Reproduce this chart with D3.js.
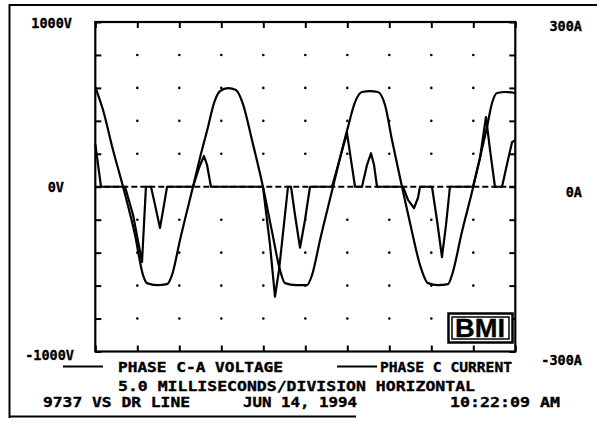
<!DOCTYPE html>
<html><head><meta charset="utf-8">
<script src="https://cdn.jsdelivr.net/npm/d3@7"></script>
<style>
html,body{margin:0;padding:0;background:#fff;}
svg{display:block;}
text{font-family:"DejaVu Sans Mono",monospace;font-weight:bold;fill:#000;stroke:#000;stroke-width:0.35px;}
</style></head>
<body>
<svg id="c" width="597" height="423"></svg>
<script>
// ---- data (time in ms, 5 ms/div, 10 divisions) ----
const timeV = [0,0.92,2.11,3.30,4.73,5.68,6.15,7.34,8.54,9.13,10.08,11.63,12.46,13.42,14.13,14.85,15.80,16.75,17.58,18.65,19.96,21.04,21.99,22.58,23.89,25.20,25.80,26.75,28.30,29.13,30.08,30.92,31.75,32.70,33.65,34.49,35.32,36.51,37.70,38.65,39.61,40.80,41.99,42.46,43.65,44.96,45.79,46.63,47.23,47.82,48.89,50];
const voltage = [605,466,223,0,-293,-536,-585,-597,-591,-536,-324,0,175,363,508,581,599,587,502,284,0,-273,-506,-585,-597,-597,-536,-324,0,175,363,514,575,581,575,496,284,0,-273,-474,-585,-597,-591,-536,-273,-8,175,363,508,569,575,569];
const timeA = [0,0.68,3.54,4.49,5.56,6.03,6.63,7.11,7.70,8.18,8.54,11.63,12.34,12.94,13.30,13.77,19.96,20.80,21.39,21.87,22.94,23.30,23.77,24.37,24.96,25.56,28.18,29.13,29.96,30.44,30.92,31.75,32.35,32.82,33.18,33.54,36.63,37.23,37.94,38.42,38.65,40.08,40.68,41.27,41.75,42.22,44.96,45.79,46.51,46.99,47.58,48.42,49.13,49.61,50];
const current = [78,0,0,-51,-137,0,0,-33,-75,-33,0,0,34,56,40,0,0,-106,-200,-152,0,0,-51,-111,-61,0,0,52,98,49,0,0,40,61,40,0,0,-24,-39,-20,0,0,-61,-128,-70,0,0,52,127,67,0,0,49,81,85];
const voltTicks = [1000,0,-1000];
const voltLabels = ["1000V","0V","-1000V"];
const ampTicks = [300,0,-300];
const ampLabels = ["300A","0A","-300A"];
const legendLabels = ["PHASE C-A VOLTAGE","PHASE C CURRENT"];
const footer = ["5.0 MILLISECONDS/DIVISION HORIZONTAL","9737 VS DR LINE","JUN 14, 1994","10:22:09 AM"];

const svg = d3.select("#c");
const L=95.3,R=515.3,T=22,B=351.5;
const x = d3.scaleLinear().domain([0,50]).range([L,R]);
const yV = d3.scaleLinear().domain([-1000,1000]).range([B,T]);
const yA = d3.scaleLinear().domain([-300,300]).range([B,T]);

// outer border (left, top, bottom)
svg.append("path").attr("d","M9.5,5 H597 M9.5,4 V418 M9,416.5 H356")
  .attr("stroke","#000").attr("stroke-width",2).attr("fill","none");

// grid dots
const g = svg.append("g");
for(let i=1;i<10;i++){for(let j=1;j<10;j++){ if(j===5) continue;
  g.append("circle").attr("cx",x(i*5)).attr("cy",yV(-1000+j*200)).attr("r",1.3).attr("fill","#000");}}
// zero dashed line
g.append("line").attr("x1",L).attr("x2",R).attr("y1",yV(0)).attr("y2",yV(0))
 .attr("stroke","#000").attr("stroke-width",2).attr("stroke-dasharray","6 3");

// axes with inward ticks
const vt = d3.range(-1000,1001,200), ht = d3.range(0,51,5);
const ax = [
  [d3.axisLeft(yV).tickValues(vt).tickSize(-6), L],
  [d3.axisRight(yV).tickValues(vt).tickSize(-6), R]];
ax.forEach(([a,px])=>{const s=svg.append("g").attr("transform",`translate(${px},0)`).call(a.tickFormat(""));
  s.select(".domain").remove(); s.selectAll("line").attr("stroke","#000").attr("stroke-width",2);});
[[d3.axisTop(x).tickValues(ht).tickSize(-6),T],[d3.axisBottom(x).tickValues(ht).tickSize(-6),B]].forEach(([a,py])=>{
  const s=svg.append("g").attr("transform",`translate(0,${py})`).call(a.tickFormat(""));
  s.select(".domain").remove(); s.selectAll("line").attr("stroke","#000").attr("stroke-width",2);});
svg.append("rect").attr("x",L).attr("y",T).attr("width",R-L).attr("height",B-T)
  .attr("fill","none").attr("stroke","#000").attr("stroke-width",2.2);

// traces
const lineV = d3.line().x((d,i)=>x(timeV[i])).y(d=>yV(d)).curve(d3.curveMonotoneX);
const lineA = d3.line().x((d,i)=>x(timeA[i])).y(d=>yA(d));
svg.append("path").datum(voltage).attr("d",lineV).attr("fill","none").attr("stroke","#000").attr("stroke-width",2.2).attr("stroke-linejoin","round");
svg.append("path").datum(current).attr("d",lineA).attr("fill","none").attr("stroke","#000").attr("stroke-width",2.2).attr("stroke-linejoin","round");

// axis labels
const fs = 13.5;
const vOff=[6,5,8.5], aOff=[9,10,13.5], vRight=[72,64,74];
voltTicks.forEach((v,i)=>{svg.append("text").attr("x",vRight[i]).attr("y",yV(v)+vOff[i]).attr("text-anchor","end")
  .attr("font-size",fs).text(voltLabels[i]);});
ampTicks.forEach((v,i)=>{svg.append("text").attr("x",582).attr("y",yA(v)+aOff[i]).attr("text-anchor","end")
  .attr("font-size",fs).text(ampLabels[i]);});

// legend
const lg = [[63,103,118,283],[337,377,380,512]];
legendLabels.forEach((t,i)=>{const [a,b,c,d]=lg[i];
  svg.append("line").attr("x1",a).attr("x2",b).attr("y1",366.5).attr("y2",366.5).attr("stroke","#000").attr("stroke-width",2);
  svg.append("text").attr("x",c).attr("y",372).attr("font-size",fs).attr("textLength",d-c).attr("lengthAdjust","spacingAndGlyphs").text(t);});

// footer
const ft = [[118,475,391],[43,190,407],[243,357,407],[450,560,407]];
footer.forEach((t,i)=>{const [a,b,yy]=ft[i];
  svg.append("text").attr("x",a).attr("y",yy).attr("font-size",fs).attr("textLength",b-a).attr("lengthAdjust","spacingAndGlyphs").text(t);});

// BMI logo
svg.append("rect").attr("x",448.5).attr("y",313.5).attr("width",64).attr("height",29).attr("fill","#fff").attr("stroke","#000").attr("stroke-width",2.5);
svg.append("rect").attr("x",452).attr("y",317).attr("width",57).attr("height",22).attr("fill","none").attr("stroke","#000").attr("stroke-width",1.5);
svg.append("text").attr("x",455).attr("y",337).attr("font-size",26)
  .attr("textLength",50).attr("lengthAdjust","spacingAndGlyphs")
  .style("font-family","'Liberation Sans',Arial,sans-serif").style("font-weight","900").text("BMI");
</script>
</body></html>
